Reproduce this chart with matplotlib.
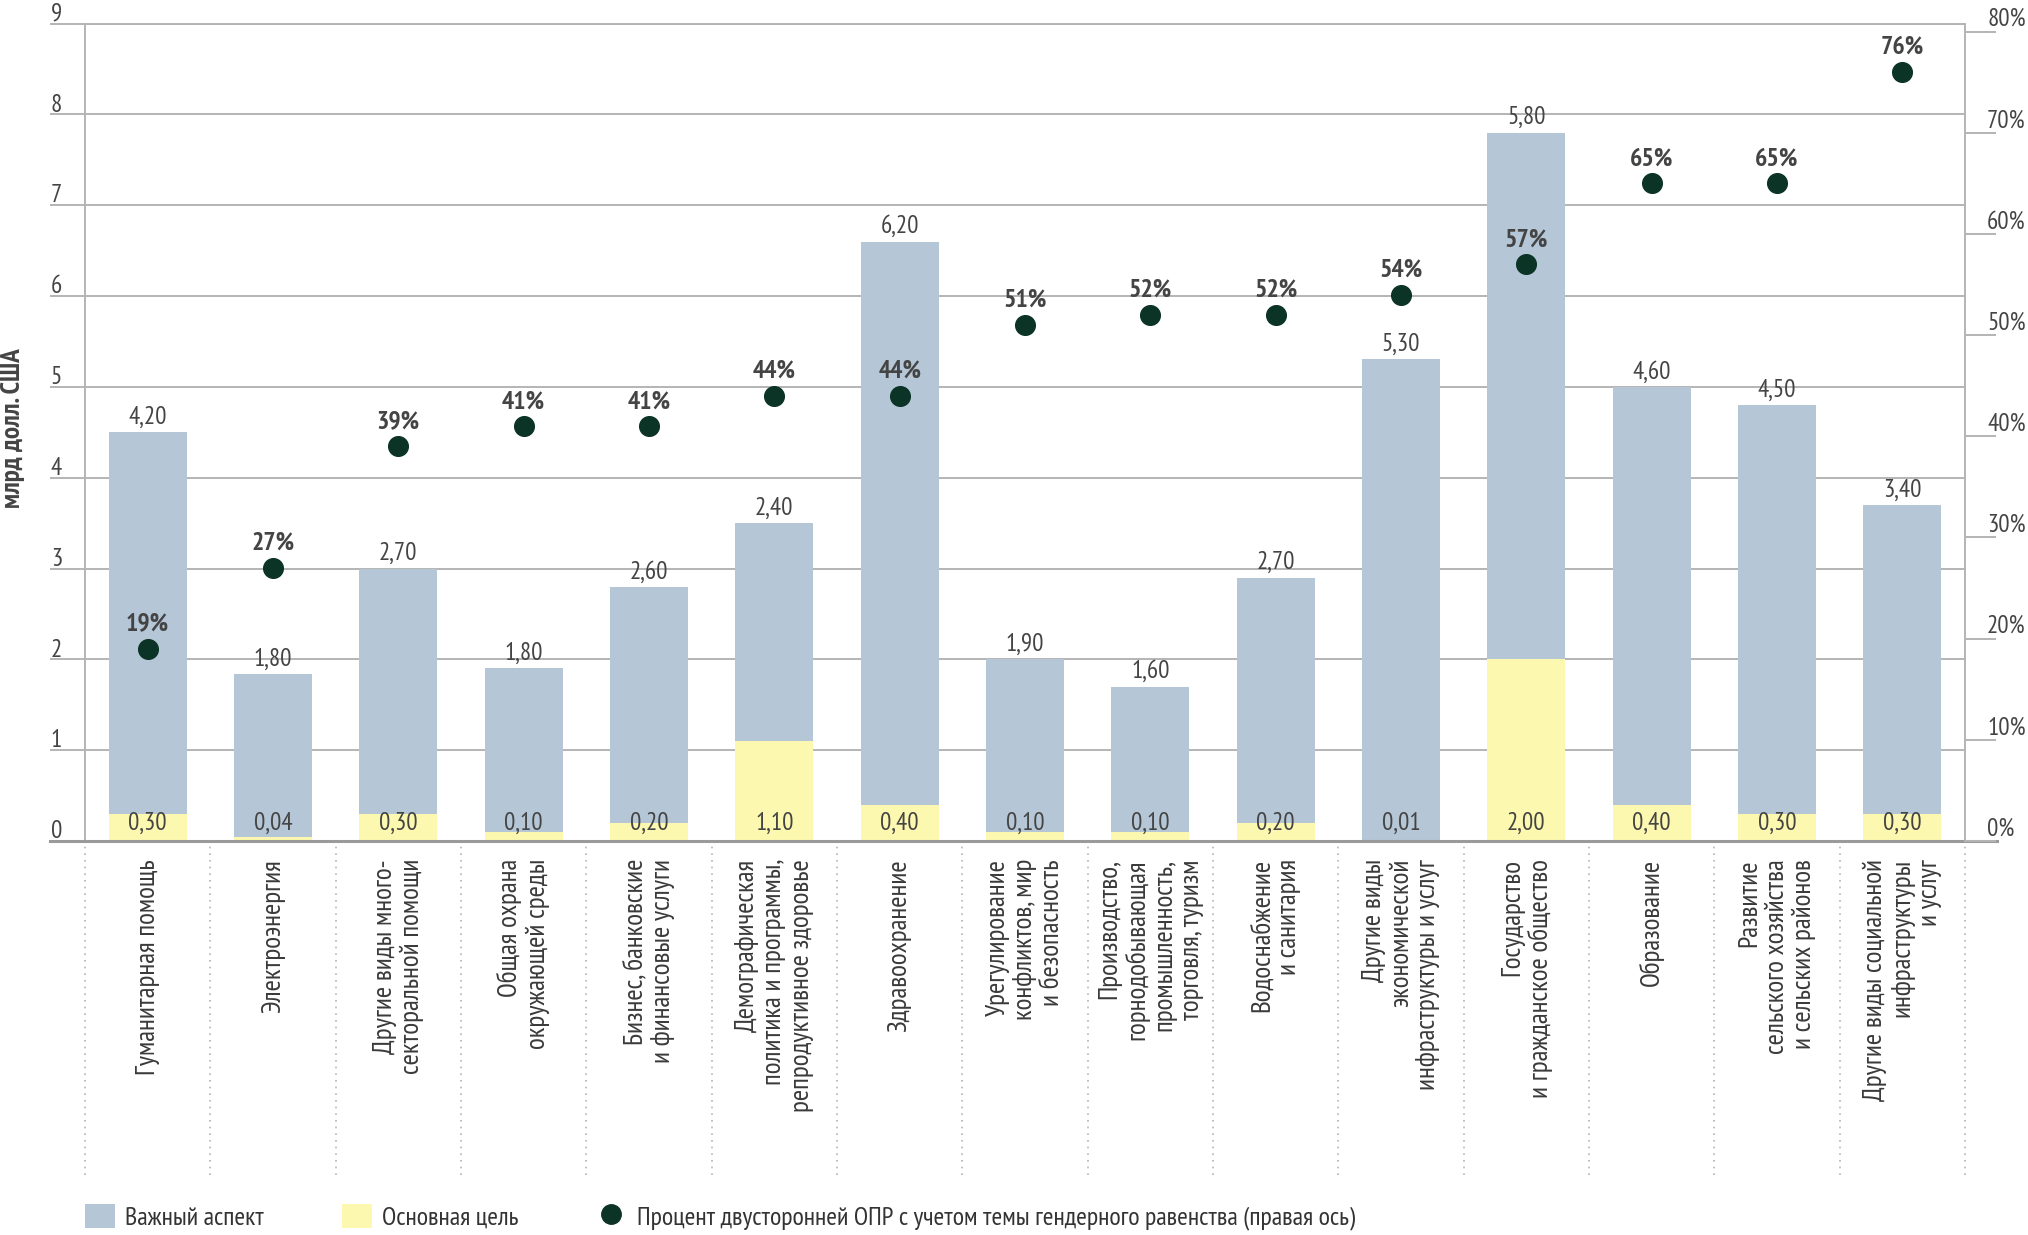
import numpy as np
import matplotlib.pyplot as plt
from matplotlib import font_manager
from matplotlib.patches import Patch
from matplotlib.lines import Line2D

# pick fonts that exist in the sandbox
installed = {f.name for f in font_manager.fontManager.ttflist}


def first_font(names):
    for n in names:
        if n in installed:
            return n
    return "DejaVu Sans"


NARROW = first_font(["PT Sans Narrow", "Fira Sans Condensed", "Roboto Condensed",
                     "Liberation Sans Narrow"])

# Data
categories = [
    "Гуманитарная помощь",
    "Электроэнергия",
    "Другие виды много-\nсекторальной помощи",
    "Общая охрана\nокружающей среды",
    "Бизнес, банковские\nи финансовые услуги",
    "Демографическая\nполитика и программы,\nрепродуктивное здоровье",
    "Здравоохранение",
    "Урегулирование\nконфликтов, мир\nи безопасность",
    "Производство,\nгорнодобывающая\nпромышленность,\nторговля, туризм",
    "Водоснабжение\nи санитария",
    "Другие виды\nэкономической\nинфраструктуры и услуг",
    "Государство\nи гражданское общество",
    "Образование",
    "Развитие\nсельского хозяйства\nи сельских районов",
    "Другие виды социальной\nинфраструктуры\nи услуг",
]
main_goal = [0.30, 0.04, 0.30, 0.10, 0.20, 1.10, 0.40, 0.10, 0.10, 0.20, 0.01, 2.00, 0.40, 0.30, 0.30]
important = [4.20, 1.80, 2.70, 1.80, 2.60, 2.40, 6.20, 1.90, 1.60, 2.70, 5.30, 5.80, 4.60, 4.50, 3.40]
percent = [19, 27, 39, 41, 41, 44, 44, 51, 52, 52, 54, 57, 65, 65, 76]
left_ticks = list(range(0, 10))
right_ticks = list(range(0, 90, 10))

legend_labels = [
    "Важный аспект",
    "Основная цель",
    "Процент двусторонней ОПР с учетом темы гендерного равенства (правая ось)",
]

# Colours
BLUE = "#b5c6d6"
YELLOW = "#fcf8b0"
DOT = "#0b3326"
GRID = "#b4b4b4"
TEXT = "#444444"


def fmt(v):
    return f"{v:.2f}".replace(".", ",")


W, H = 2028, 1235
fig = plt.figure(figsize=(W / 100, H / 100), dpi=100)
ax_l, ax_r, ax_t, ax_b = 85, 1965, 23.5, 841
ax = fig.add_axes([ax_l / W, 1 - ax_b / H, (ax_r - ax_l) / W, (ax_b - ax_t) / H])
ax_w_px = ax_r - ax_l
ax_h_px = ax_b - ax_t

x = np.arange(len(categories))
tops = np.array(main_goal) + np.array(important)

ax.bar(x, main_goal, width=0.62, color=YELLOW, zorder=2)
ax.bar(x, important, bottom=main_goal, width=0.62, color=BLUE, zorder=2)

ax.set_xlim(-0.5, len(categories) - 0.5)
ax.set_ylim(0, 9)

# left axis: gridlines extended as ticks, labels sit above the lines
ax.set_yticks(left_ticks)
ax.set_yticklabels([])
ax.tick_params(axis="y", length=25, width=1.4, color=GRID, direction="out")
ax.yaxis.grid(True, color=GRID, lw=1.4)
ax.set_axisbelow(True)
for t in left_ticks:
    ax.annotate(str(t), (-23 / ax_w_px, t), xycoords=ax.get_yaxis_transform(),
                xytext=(0, 2), textcoords="offset points",
                ha="right", va="baseline", fontsize=18, color=TEXT, family=NARROW)

for s in ["right", "bottom"]:
    ax.spines[s].set_visible(False)
for s in ["left", "top"]:
    ax.spines[s].set_color(GRID)
    ax.spines[s].set_linewidth(1.4)

# zero line running past both axes
ax.plot([-35 / ax_w_px, 1 + 32 / ax_w_px], [0, 0], transform=ax.get_yaxis_transform(),
        color="#9a9a9a", lw=2.2, clip_on=False, zorder=3)

# dotted separators under the axis
bounds = np.arange(len(categories) + 1) - 0.5
ax.vlines(bounds, -(1175 - ax_b) / ax_h_px, 0, transform=ax.get_xaxis_transform(),
          colors=GRID, linestyles=(0, (1, 3)), lw=1.2, clip_on=False)

# category labels
ax.set_xticks(x)
ax.set_xticklabels(categories, rotation=90, va="top", ha="center", multialignment="right",
                   fontsize=19.5, family=NARROW, color="#3a3a3a", linespacing=1.17)
ax.tick_params(axis="x", length=0, pad=13)

# value labels
for xi, mg, imp, top in zip(x, main_goal, important, tops):
    ax.annotate(fmt(imp), (xi, top), xytext=(0, 6), textcoords="offset points",
                ha="center", va="baseline", fontsize=18, color=TEXT, family=NARROW, zorder=4)
    ax.annotate(fmt(mg), (xi, 0), xytext=(0, 8), textcoords="offset points",
                ha="center", va="baseline", fontsize=18, color=TEXT, family=NARROW, zorder=4)

# right axis with percentages
ax2 = ax.twinx()
ax2.set_ylim(0, 80.8)
ax2.set_yticks(right_ticks)
ax2.set_yticklabels([])
ax2.tick_params(axis="y", length=22, width=1.4, color=GRID, direction="out")
for s in ["left", "top", "bottom"]:
    ax2.spines[s].set_visible(False)
ax2.spines["right"].set_color(GRID)
ax2.spines["right"].set_linewidth(1.4)
for t in right_ticks:
    ax2.annotate(f"{t}%", (1 + 22 / ax_w_px, t), xycoords=ax2.get_yaxis_transform(),
                 xytext=(0, 4), textcoords="offset points",
                 ha="left", va="baseline", fontsize=18, color=TEXT, family=NARROW)

ax2.scatter(x, percent, s=200, color=DOT, zorder=5)
for xi, p in zip(x, percent):
    ax2.annotate(f"{p}%", (xi, p), xytext=(0, 13), textcoords="offset points",
                 ha="center", va="baseline", fontsize=18.5, fontweight="bold",
                 color=TEXT, family=NARROW, zorder=6)

fig.text(13 / W, 1 - 428 / H, "млрд долл. США", rotation=90, ha="center", va="center",
         fontsize=19.5, fontweight="bold", color=TEXT, family=NARROW)

handles = [
    Patch(facecolor=BLUE, label=legend_labels[0]),
    Patch(facecolor=YELLOW, label=legend_labels[1]),
    Line2D([], [], marker="o", ls="", color=DOT, markersize=14, label=legend_labels[2]),
]
leg = fig.legend(handles=handles, loc="center left", bbox_to_anchor=(ax_l / W, 1 - 1217 / H),
                 ncol=3, frameon=False, borderpad=0, borderaxespad=0, handlelength=1.15,
                 handleheight=1.1, handletextpad=0.4, columnspacing=3.0,
                 prop={"family": NARROW, "size": 18.7})
for txt in leg.get_texts():
    txt.set_color("#333333")

fig.savefig("out.png", dpi=100)
